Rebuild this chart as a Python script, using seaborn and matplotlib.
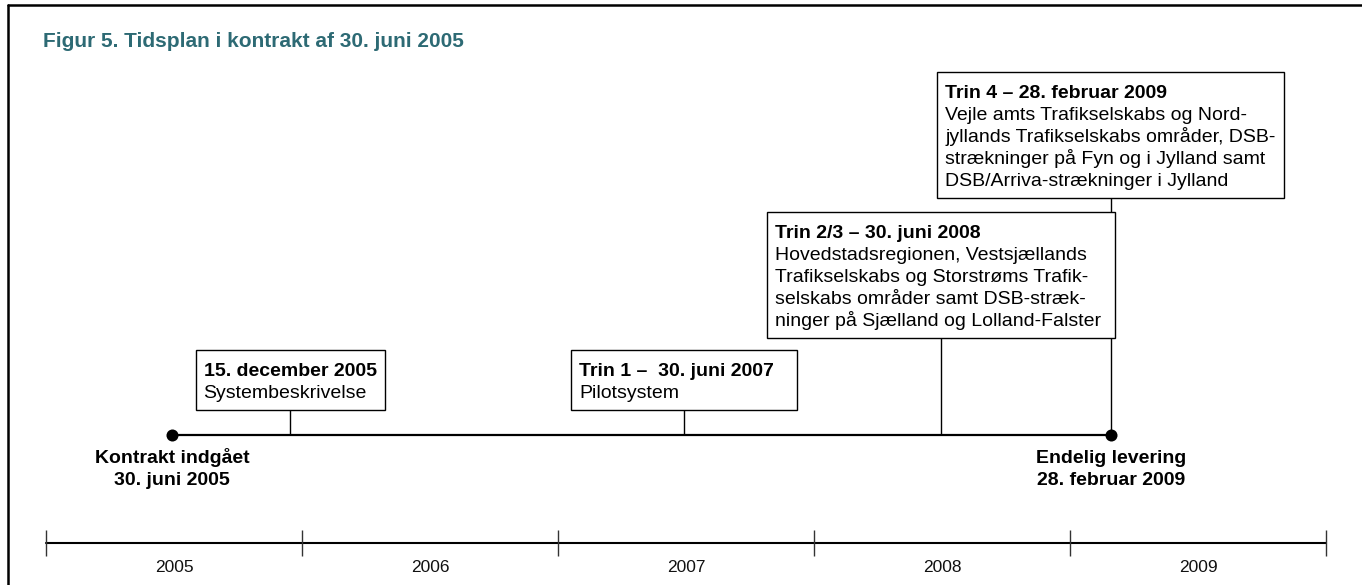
import matplotlib
matplotlib.use("Agg")
import matplotlib.pyplot as plt
import seaborn as sns
import pandas as pd
from matplotlib.patches import Rectangle
from matplotlib.lines import Line2D

# ---------------- data ----------------
title = "Figur 5. Tidsplan i kontrakt af 30. juni 2005"
years = [2005, 2006, 2007, 2008, 2009]
start_date = "2005-06-30"
end_date = "2009-02-28"
start_label = ["Kontrakt indgået", "30. juni 2005"]
end_label = ["Endelig levering", "28. februar 2009"]

event_dates = ["2005-12-15", "2007-06-30", "2008-06-30", "2009-02-28"]
event_headers = ["15. december 2005",
                 "Trin 1 –  30. juni 2007",
                 "Trin 2/3 – 30. juni 2008",
                 "Trin 4 – 28. februar 2009"]
event_bodies = [
    ["Systembeskrivelse"],
    ["Pilotsystem"],
    ["Hovedstadsregionen, Vestsjællands",
     "Trafikselskabs og Storstrøms Trafik-",
     "selskabs områder samt DSB-stræk-",
     "ninger på Sjælland og Lolland-Falster"],
    ["Vejle amts Trafikselskabs og Nord-",
     "jyllands Trafikselskabs områder, DSB-",
     "strækninger på Fyn og i Jylland samt",
     "DSB/Arriva-strækninger i Jylland"],
]

# ---------------- layout (pixels) ----------------
W, H = 1362, 585
X0 = 46          # pixel of 1 Jan of first year
PX = 256         # pixels per year
LINE_Y = 435
AXIS_Y = 543
box_tops = [350, 350, 212, 72]
box_min_w = [188, 226, 348, 344]
TITLE_COLOR = "#2D6A74"


def dec_year(s):
    t = pd.Timestamp(s)
    a = pd.Timestamp(year=t.year, month=1, day=1)
    b = pd.Timestamp(year=t.year + 1, month=1, day=1)
    return t.year + (t - a) / (b - a)


sns.set_theme(style="white")
plt.rcParams["font.family"] = ["Liberation Sans", "DejaVu Sans"]

fig = plt.figure(figsize=(W / 100, H / 100), dpi=100)
ax = fig.add_axes([0, 0, 1, 1])

# main timeline + end dots
tl = pd.DataFrame({"x": [dec_year(start_date), dec_year(end_date)],
                   "y": [LINE_Y, LINE_Y]})
sns.lineplot(data=tl, x="x", y="y", color="black", linewidth=1.6,
             ax=ax, legend=False, zorder=3)
sns.scatterplot(data=tl, x="x", y="y", color="black", s=75, linewidth=0,
                ax=ax, legend=False, zorder=5)

# year axis
bounds = years + [years[-1] + 1]
ya = pd.DataFrame({"x": [bounds[0], bounds[-1]], "y": [AXIS_Y, AXIS_Y]})
sns.lineplot(data=ya, x="x", y="y", color="black", linewidth=1.5,
             ax=ax, legend=False)
ax.vlines(bounds, AXIS_Y - 13, AXIS_Y + 13, color="#333333", linewidth=1.0)
for yr in years:
    ax.text(yr + 0.5, 567, str(yr), ha="center", va="center",
            fontsize=12.5, color="#111111")

ax.set_xlim(years[0] - X0 / PX, years[0] + (W - X0) / PX)
ax.set_ylim(H, 0)
ax.axis("off")

# start / end labels
for d, lab in [(start_date, start_label), (end_date, end_label)]:
    x = dec_year(d)
    ax.text(x, 463, lab[0], ha="center", va="baseline", fontsize=14,
            fontweight="bold", color="black")
    ax.text(x, 485, lab[1], ha="center", va="baseline", fontsize=14,
            fontweight="bold", color="black")

# event boxes
fig.canvas.draw()
renderer = fig.canvas.get_renderer()
LS = 22
for d, head, body, top, mw in zip(event_dates, event_headers, event_bodies,
                                  box_tops, box_min_w):
    xc = dec_year(d)
    texts = []
    y = top + 26
    t = ax.text(0, y, head, ha="left", va="baseline", fontsize=14,
                fontweight="bold", color="black", zorder=6)
    texts.append(t)
    for line in body:
        y += LS
        t = ax.text(0, y, line, ha="left", va="baseline", fontsize=14,
                    color="black", zorder=6)
        texts.append(t)
    bottom = y + 12
    tw = max(tt.get_window_extent(renderer).width for tt in texts)
    bw = max(mw, tw + 16)
    left = xc - (bw / 2) / PX
    for tt in texts:
        tt.set_x(left + 8 / PX)
    ax.add_patch(Rectangle((left, top), bw / PX, bottom - top,
                           facecolor="white", edgecolor="black",
                           linewidth=1.0, zorder=4))
    ax.vlines(xc, bottom, LINE_Y, color="black", linewidth=1.0, zorder=2)

# title
ax.text(years[0] - X0 / PX + 43 / PX, 47, title, ha="left", va="baseline",
        fontsize=15, fontweight="bold", color=TITLE_COLOR)

# frame (top and left)
fig.add_artist(Line2D([8 / W, 1], [1 - 5 / H, 1 - 5 / H], color="black",
                      linewidth=1.8, transform=fig.transFigure))
fig.add_artist(Line2D([8 / W, 8 / W], [0, 1 - 5 / H], color="black",
                      linewidth=1.8, transform=fig.transFigure))

fig.savefig("out.png", dpi=100, facecolor="white")
